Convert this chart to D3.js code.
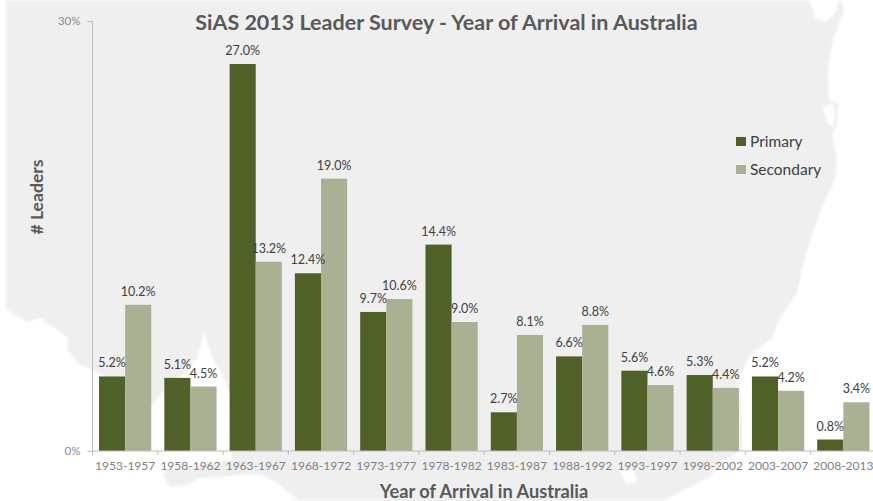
<!DOCTYPE html>
<html>
<head>
<meta charset="utf-8">
<script src="https://cdn.jsdelivr.net/npm/d3@7/dist/d3.min.js"></script>
<style>
html,body{margin:0;padding:0;background:#fff;overflow:hidden}
svg{display:block}
text{font-family:Lato,"Open Sans",sans-serif}
</style>
</head>
<body>
<svg id="chart" width="873" height="501"></svg>
<script>
const categories = ["1953-1957","1958-1962","1963-1967","1968-1972","1973-1977","1978-1982","1983-1987","1988-1992","1993-1997","1998-2002","2003-2007","2008-2013"];
const primary = [5.2,5.1,27.0,12.4,9.7,14.4,2.7,6.6,5.6,5.3,5.2,0.8];
const secondary = [10.2,4.5,13.2,19.0,10.6,9.0,8.1,8.8,4.6,4.4,4.2,3.4];
const seriesNames = ["Primary","Secondary"];
const seriesColors = ["#506128","#a8b192"];
const yTicks = [0,30];

// Decorative map silhouette behind the chart
const mapOutline = [[6,0],[842,0],[844,10],[835,35],[831,50],[828,70],[829,100],[838,103],[837,125],[832,135],[837,157],[835,180],[822,207],[807,250],[802,270],[797,293],[777,323],[773,338],[752,353],[737,380],[741,400],[742,450],[720,463],[710,477],[670,497],[663,501],[300,501],[277,483],[260,474],[240,475],[220,477],[200,478],[187,485],[170,487],[163,475],[165,470],[232,460],[230,395],[222,372],[214,362],[208,345],[204,333],[197,358],[185,372],[163,392],[152,405],[93,370],[80,365],[67,350],[68,338],[55,328],[40,318],[27,322],[7,310],[6,308]];
const mapHoles = [
  [[810,0],[838,0],[836,12],[826,22],[815,18]],
  [[823,107],[833,103],[835,115],[833,128],[827,122]],
  [[620,471],[634,470],[637,482],[626,484]]
];

const plotLeft = 92.5, plotRight = 876, plotTop = 21, plotBottom = 451;
const svg = d3.select("#chart");

const defs = svg.append("defs");
defs.append("filter").attr("id","soft").append("feGaussianBlur").attr("stdDeviation",0.8);

const line = d3.line().curve(d3.curveLinearClosed);
const mapG = svg.append("g").attr("filter","url(#soft)");
mapG.append("path").attr("d",line(mapOutline)).attr("fill","#efefef");
mapG.selectAll(".hole").data(mapHoles).join("path").attr("class","hole").attr("d",line).attr("fill","#fff");

const x0 = d3.scaleBand().domain(categories).range([plotLeft,plotRight]).paddingInner(0.2).paddingOuter(0.1);
const x1 = d3.scaleBand().domain(seriesNames).range([0,x0.bandwidth()]);
const y = d3.scaleLinear().domain([0,30]).range([plotBottom,plotTop]);

const rows = categories.map((c,i)=>({c,values:[primary[i],secondary[i]]}));

const groups = svg.append("g").selectAll("g").data(rows).join("g")
  .attr("transform",d=>`translate(${x0(d.c)},0)`);
groups.selectAll("rect").data(d=>d.values.map((v,i)=>({v,s:seriesNames[i],col:seriesColors[i]}))).join("rect")
  .attr("x",d=>x1(d.s)).attr("width",x1.bandwidth())
  .attr("y",d=>y(d.v)).attr("height",d=>y(0)-y(d.v))
  .attr("fill",d=>d.col);

// axes
const yAxis = svg.append("g").attr("transform",`translate(${plotLeft},0)`)
  .call(d3.axisLeft(y).tickValues(yTicks).tickFormat(d=>d+"%").tickSize(5).tickPadding(7));
yAxis.select(".domain").attr("stroke","#bdbdbd").attr("d",`M0,${plotTop}V${plotBottom}`);
yAxis.selectAll("line").attr("stroke","#bdbdbd");
yAxis.selectAll("text").attr("fill","#8c8c8c").attr("font-size",11.5).style("font-family","Lato");

const xAxis = svg.append("g").attr("transform",`translate(0,${plotBottom})`)
  .call(d3.axisBottom(x0).tickSize(0).tickPadding(10));
xAxis.select(".domain").attr("stroke","#bdbdbd").attr("d",`M${plotLeft},0H${plotRight}`);
xAxis.selectAll("text").attr("fill","#7f7f7f").attr("font-size",12).style("font-family","Lato");
xAxis.selectAll(".boundary").data(d3.range(categories.length+1)).join("line")
  .attr("class","boundary").attr("stroke","#bdbdbd")
  .attr("x1",i=>plotLeft+i*x0.step()).attr("x2",i=>plotLeft+i*x0.step()).attr("y1",0).attr("y2",4);

// value labels
groups.selectAll("text").data(d=>d.values.map((v,i)=>({v,s:seriesNames[i]}))).join("text")
  .attr("x",d=>x1(d.s)+x1.bandwidth()/2).attr("y",d=>y(d.v)-9)
  .attr("text-anchor","middle").attr("font-size",12.5).attr("fill","#404040")
  .text(d=>d.v.toFixed(1)+"%");

// titles
svg.append("text").attr("x",446.5).attr("y",29.5).attr("text-anchor","middle")
  .attr("font-size",21.5).attr("font-weight",700).attr("fill","#595959")
  .text("SiAS 2013 Leader Survey - Year of Arrival in Australia");
svg.append("text").attr("x",484).attr("y",498).attr("text-anchor","middle")
  .attr("font-size",18.2).attr("font-weight",700).attr("fill","#595959")
  .text("Year of Arrival in Australia");
svg.append("text").attr("transform","translate(43,197) rotate(-90)").attr("text-anchor","middle")
  .attr("font-size",17.6).attr("font-weight",700).attr("fill","#595959")
  .text("# Leaders");

// legend
const legendY = d3.scalePoint().domain(seriesNames).range([141.5,169.5]);
const lg = svg.append("g").selectAll("g").data(seriesNames).join("g")
  .attr("transform",d=>`translate(736,${legendY(d)})`);
lg.append("rect").attr("x",0).attr("y",-4.5).attr("width",10).attr("height",9)
  .attr("fill",(d,i)=>seriesColors[i]);
lg.append("text").attr("x",14).attr("y",5).attr("font-size",15.5).attr("fill","#404040")
  .text(d=>d);
</script>
</body>
</html>
